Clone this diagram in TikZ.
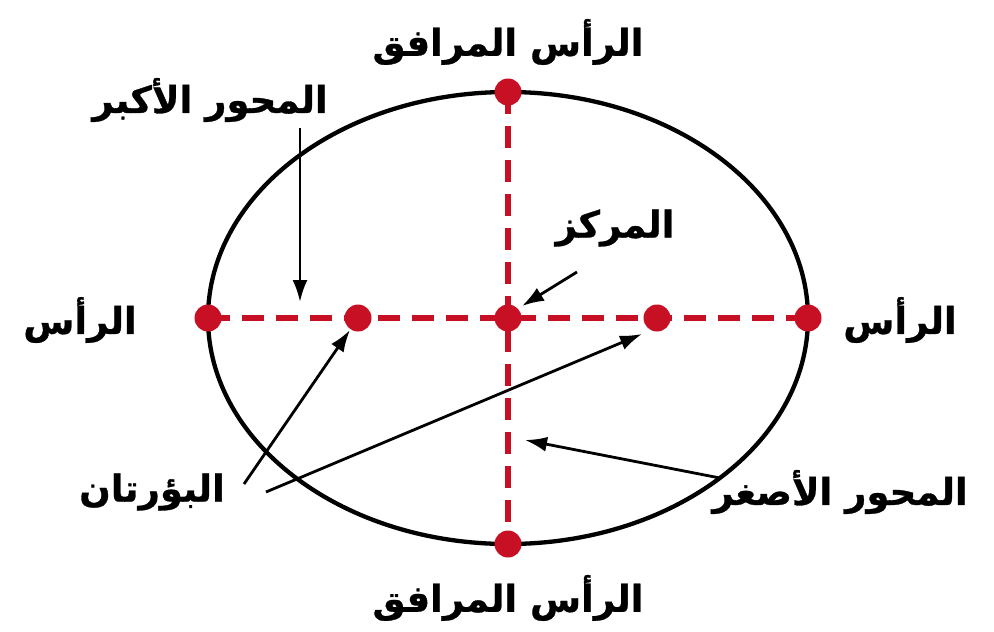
\documentclass[tikz,border=0pt]{standalone}
\usepackage{fontspec}
\usetikzlibrary{arrows.meta}
\TeXXeTstate=1
\newfontfamily\arabicfont[Script=Arabic,BoldFeatures={FakeBold=0.8}]{DejaVu Sans}
\definecolor{axisred}{RGB}{200,16,36}
\tikzset{
  dot/.style={circle,fill=axisred,inner sep=0pt,minimum size=27pt},
  axisline/.style={axisred,line width=5.5pt,dash pattern=on 22pt off 12pt},
  lbl/.style={font=\arabicfont\bfseries\fontsize{37}{42}\selectfont,inner sep=0pt},
  pointer/.style={line width=2.8pt,-{Latex[length=22pt,width=15pt]}}
}
\begin{document}
\begin{tikzpicture}[x=1pt,y=-1pt]
\useasboundingbox (0,0) rectangle (994,632);
% ellipse
\coordinate (c) at (508,318);
\draw[line width=4.3pt] (c) ellipse [x radius=300, y radius=226];
% points
\node[dot] (vl) at (208,318) {};
\node[dot] (vr) at (808,318) {};
\node[dot] (ct) at (508,92) {};
\node[dot] (cb) at (508,544) {};
\node[dot] (f1) at (358,318) {};
\node[dot] (f2) at (657,318) {};
\node[dot] (cn) at (508,318) {};
% axes
\draw[axisline] (vl.center) -- (vr.center);
\draw[axisline] (ct.center) -- (cb.center);
% labels
\node[lbl] (ltop) at (508,42) {\beginR الرأس المرافق\endR};
\node[lbl] (lbot) at (508,598) {\beginR الرأس المرافق\endR};
\node[lbl] (lmaj) at (210,100) {\beginR المحور الأكبر\endR};
\node[lbl] (lvl) at (80,320) {\beginR الرأس\endR};
\node[lbl] (lvr) at (900,320) {\beginR الرأس\endR};
\node[lbl] (lcen) at (615,228) {\beginR المركز\endR};
\node[lbl] (lfoc) at (152,492) {\beginR البؤرتان\endR};
\node[lbl] (lmin) at (840,492) {\beginR المحور الأصغر\endR};
% pointers
\coordinate (amaj) at (300,128);
\coordinate (amajt) at (300,302);
\coordinate (acen) at (577,272);
\coordinate (acent) at (522,306);
\coordinate (af1) at (244,484);
\coordinate (af1t) at (350,330);
\coordinate (af2) at (266,492);
\coordinate (af2t) at (642,334);
\coordinate (amin) at (720,478);
\coordinate (amint) at (525,440);
\draw[pointer] (amaj) -- (amajt);
\draw[pointer] (acen) -- (acent);
\draw[pointer] (af1) -- (af1t);
\draw[pointer] (af2) -- (af2t);
\draw[pointer] (amin) -- (amint);
\end{tikzpicture}
\end{document}
